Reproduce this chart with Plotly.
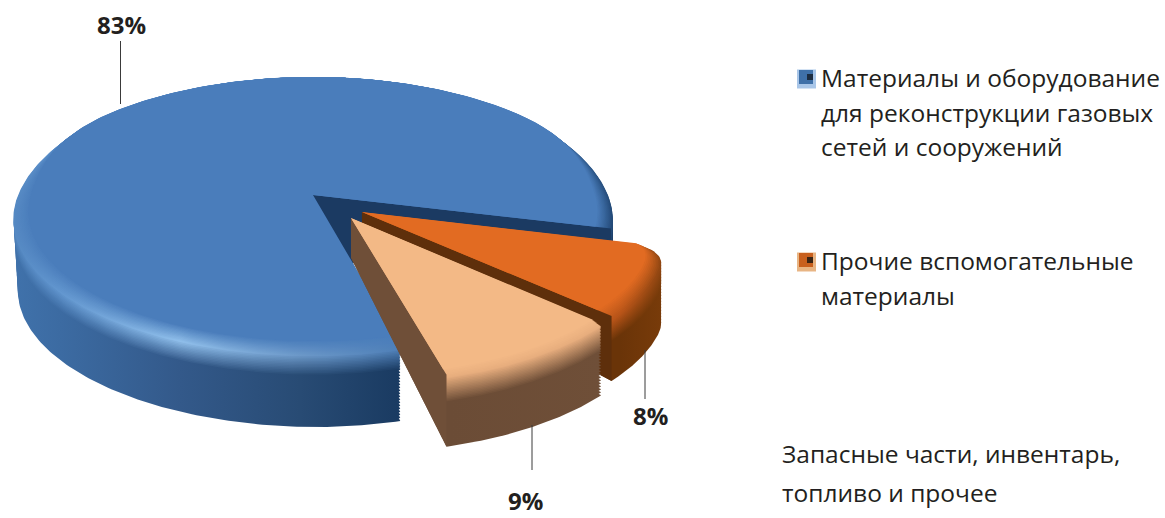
import numpy as np
import plotly.graph_objects as go

# ---- data ----
categories = ["Материалы и оборудование для реконструкции газовых сетей и сооружений",
              "Прочие вспомогательные материалы",
              "Запасные части, инвентарь, топливо и прочее"]
values = [83, 8, 9]
legend_lines = [["Материалы и оборудование", "для реконструкции газовых", "сетей и сооружений"],
                ["Прочие вспомогательные", "материалы"],
                ["Запасные части, инвентарь,", "топливо и прочее"]]

# ---- layout / projection settings ----
W, H = 1165, 518
CX, CY, C, A, K = 313, 195, 297, 107.6, 0.1355
START = 14.0
INK = "#231f20"
FONT = "Open Sans"

def proj(u, v):
    w = 1 - K * v
    return CX + C * u / w, (A * v + CY) / w

def hx(c):
    return np.array([int(c[i:i + 2], 16) for i in (1, 3, 5)], float)

def mix(a, b, t):
    r = hx(a) * (1 - t) + hx(b) * t
    return "#%02x%02x%02x" % tuple(int(round(x)) for x in r)

# angular span of each slice, clockwise on screen from START: orange, peach, then blue
share = {i: v / sum(values) * 360 for i, v in enumerate(values)}
a1 = START + share[1]
a2 = a1 + share[2]
a3 = a2 + share[0]

style = {
    0: dict(span=(a2, a3), pull=(0, 0), depth=77, f0=0.8, rf=0.95, zr=6, zs=26, face="#4a7dbb", wall="#1b3a62", n=360, round=0,
            xs=[12, 60, 180, 300, 398, 540, 613],
            ridge=["#5488c2", "#6296cf", "#8fbeea", "#6c98c8", "#4f80b8", "#3d6ea6", "#234a78"],
            side=["#4072ab", "#3c6ba2", "#33598a", "#284b74", "#1a3b62", "#1f4068", "#1b3a62"]),
    1: dict(span=(START, a1), pull=(0.162, 0.125), depth=65, f0=0.55, rf=0.95, zr=5, zs=26, face="#e26b22", wall="#5e2f0b", n=60, round=0.05,
            xs=[360, 560, 620, 667],
            ridge=["#c85f1c", "#c85f1c", "#b85418", "#8a4410"],
            side=["#6a3408", "#6a3408", "#6a3408", "#7a3c0a"]),
    2: dict(span=(a1, a2), pull=(0.125, 0.168), depth=72, f0=0.55, rf=0.97, zr=3, zs=28, face="#f3b986", wall="#6f4f38", n=60, round=0,
            xs=[350, 450, 600],
            ridge=["#e8ae7e", "#e8ae7e", "#e8ae7e"],
            side=["#6b4c36", "#6b4c36", "#6f4f38"]),
}

def disc_points(i, rfun):
    s = style[i]
    deg = np.linspace(s["span"][0], s["span"][1], s["n"])
    t = np.radians(deg)
    r = rfun(t) * (1 - s["round"] * np.exp(-(deg - s["span"][0]) / 2.5))
    du, dv = s["pull"]
    u = np.concatenate([[du], du + r * np.cos(t), [du]])
    v = np.concatenate([[dv], dv + r * np.sin(t), [dv]])
    rr = np.concatenate([[0], r, [0]])
    return u, v, rr

def offset(z, rr, v, f0):
    g = np.clip((v + 1) / 0.9, 0, 1)
    return z * (f0 + (1 - f0) * rr) * g

def face_r(i):
    rf = style[i]["rf"]
    if i == 0:
        return lambda t: rf + (1 - rf) * np.sin(np.clip(-np.sin(t) / 0.7, 0, 1) * np.pi / 2) ** 2
    return lambda t: rf + 0 * t

traces = []

def add_poly(x, y, fill=None, grad=None):
    tr = go.Scatter(x=x, y=y, mode="lines", line=dict(width=0), fill="toself", hoverinfo="skip", showlegend=False)
    if grad is not None:
        tr.fillgradient = grad
    else:
        tr.fillcolor = fill
    traces.append(tr)

def draw_slice(i):
    s = style[i]
    fr = face_r(i)
    x0, x1 = s["xs"][0], s["xs"][-1]
    pos = [(x - x0) / (x1 - x0) for x in s["xs"]]
    zs = np.concatenate([np.arange(s["depth"], s["zs"], -3.0),
                         np.arange(s["zs"], s["zr"], -1.5),
                         np.arange(s["zr"], 0, -0.5)])
    for z in zs:
        if z <= s["zr"]:
            t = z / s["zr"]
            cols = [mix(s["face"], c, t) for c in s["ridge"]]
        elif z <= s["zs"]:
            t = (z - s["zr"]) / (s["zs"] - s["zr"])
            cols = [mix(a, b, t) for a, b in zip(s["ridge"], s["side"])]
        else:
            cols = s["side"]
        if z <= s["zr"]:
            bt = z / s["zr"]
            rfun = lambda q, bt=bt: fr(q) * (1 - bt) + bt
        else:
            # the wall narrows a little towards its foot on the far left only
            shrink = 0.015 * z / s["depth"]
            rfun = lambda q, shrink=shrink: 1 - shrink * np.clip(-np.cos(q), 0, 1)
        u, v, rr = disc_points(i, rfun)
        px, py = proj(u, v)
        py = py + offset(z, rr, v, s["f0"])
        add_poly(px, py, grad=dict(type="horizontal", start=x0, stop=x1,
                                   colorscale=[[p, c] for p, c in zip(pos, cols)]))
    # cut wall facing the viewer
    ta = np.radians(s["span"][1])
    du, dv = s["pull"]
    ua, va = du + np.cos(ta), dv + np.sin(ta)
    ax, ay = proj(np.array([du, ua]), np.array([dv, va]))
    d = s["depth"]
    wx = [ax[0], ax[1], ax[1], ax[0], ax[0]]
    wy = [ay[0], ay[1], ay[1] + d, ay[0] + d * s["f0"], ay[0]]
    add_poly(wx, wy, fill=s["wall"])
    # flat top
    u, v, rr = disc_points(i, fr)
    px, py = proj(u, v)
    add_poly(px, py, fill=s["face"])

for i in (0, 1, 2):
    draw_slice(i)

# leader lines
leaders = [(120.5, 41, 104), (645, 350, 399), (532, 425, 470)]
for lx, y0, y1 in leaders:
    traces.append(go.Scatter(x=[lx, lx], y=[y0, y1], mode="lines", line=dict(color="#3a3a3a", width=1),
                             hoverinfo="skip", showlegend=False))

# legend swatches
swatches = [(806.5, 79, "#a9c6e8", "#3f70a8", "#1c2c40"), (806.5, 262, "#e8b584", "#c8601e", "#3a2414")]
for sx, sy, c1, c2, c3 in swatches:
    traces.append(go.Scatter(x=[sx], y=[sy], mode="markers", marker=dict(symbol="square", size=19, color=c1, line=dict(width=0)),
                             hoverinfo="skip", showlegend=False))
    traces.append(go.Scatter(x=[sx - 0.5], y=[sy - 2], mode="markers", marker=dict(symbol="square", size=14, color=c2, line=dict(width=0)),
                             hoverinfo="skip", showlegend=False))
    traces.append(go.Scatter(x=[sx + 3.5], y=[sy - 2], mode="markers", marker=dict(symbol="square", size=6, color=c3, line=dict(width=0)),
                             hoverinfo="skip", showlegend=False))

fig = go.Figure(traces)

ann = []
value_pos = [(121, 24), (650, 415), (525, 500)]
for v, (x, y) in zip(values, value_pos):
    ann.append(dict(x=x, y=y, text=f"<b>{v}%</b>", showarrow=False, xanchor="center", yanchor="middle",
                    font=dict(family=FONT, size=24, color=INK)))
legend_pos = [(819, [77, 112, 146]), (819, [260, 295]), (780, [453, 492])]
for lines, (x, ys) in zip(legend_lines, legend_pos):
    for line, y in zip(lines, ys):
        ann.append(dict(x=x, y=y, text=line, showarrow=False, xanchor="left", yanchor="middle",
                        font=dict(family=FONT, size=24.5, color=INK)))

fig.update_layout(
    width=W, height=H, margin=dict(l=0, r=0, t=0, b=0), autosize=False,
    paper_bgcolor="white", plot_bgcolor="white", showlegend=False, annotations=ann,
    xaxis=dict(range=[0, W], visible=False, fixedrange=True),
    yaxis=dict(range=[H, 0], visible=False, fixedrange=True),
)
fig.write_html("out.html", config=dict(displayModeBar=False),
               post_script="document.body.style.margin='0';")
